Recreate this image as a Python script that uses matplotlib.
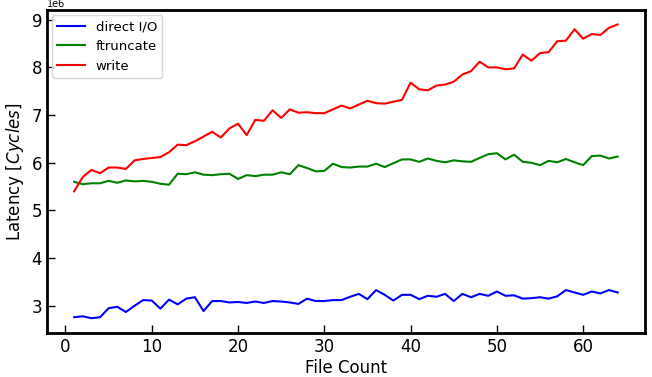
import numpy as np
import matplotlib
matplotlib.use("Agg")
import matplotlib.pyplot as plt

# Data (cycles, in units of 1e6)
file_count = np.arange(1, 65)

direct_io = [2.76, 2.78, 2.74, 2.76, 2.95, 2.98, 2.87, 3.00, 3.12, 3.11,
             2.94, 3.13, 3.03, 3.15, 3.18, 2.89, 3.10, 3.10, 3.07, 3.08,
             3.06, 3.09, 3.06, 3.10, 3.09, 3.07, 3.04, 3.15, 3.10, 3.10,
             3.12, 3.12, 3.19, 3.25, 3.14, 3.33, 3.23, 3.11, 3.23, 3.23,
             3.14, 3.21, 3.19, 3.25, 3.10, 3.25, 3.18, 3.25, 3.21, 3.30,
             3.21, 3.22, 3.15, 3.16, 3.18, 3.15, 3.20, 3.33, 3.28, 3.23,
             3.30, 3.26, 3.33, 3.28]

ftruncate = [5.60, 5.55, 5.57, 5.57, 5.62, 5.58, 5.63, 5.61, 5.62, 5.60,
             5.56, 5.54, 5.77, 5.76, 5.80, 5.75, 5.74, 5.76, 5.77, 5.66,
             5.74, 5.72, 5.75, 5.75, 5.80, 5.76, 5.95, 5.89, 5.82, 5.83,
             5.98, 5.91, 5.90, 5.92, 5.92, 5.98, 5.91, 5.99, 6.07, 6.07,
             6.02, 6.09, 6.04, 6.01, 6.05, 6.03, 6.02, 6.10, 6.18, 6.20,
             6.07, 6.17, 6.02, 6.00, 5.95, 6.04, 6.01, 6.08, 6.01, 5.95,
             6.14, 6.15, 6.09, 6.13]

write = [5.40, 5.70, 5.85, 5.78, 5.90, 5.90, 5.87, 6.05, 6.08, 6.10,
         6.12, 6.22, 6.38, 6.37, 6.45, 6.55, 6.65, 6.53, 6.72, 6.82,
         6.58, 6.90, 6.88, 7.10, 6.94, 7.12, 7.05, 7.06, 7.04, 7.04,
         7.12, 7.20, 7.14, 7.22, 7.30, 7.25, 7.24, 7.28, 7.32, 7.68,
         7.54, 7.52, 7.62, 7.64, 7.70, 7.85, 7.92, 8.12, 8.00, 8.00,
         7.96, 7.98, 8.27, 8.14, 8.30, 8.32, 8.55, 8.56, 8.80, 8.60,
         8.70, 8.68, 8.83, 8.90]

fig = plt.figure(figsize=(6.52, 3.77), dpi=100)
ax = fig.add_axes([0.072, 0.117, 0.917, 0.857])

ax.plot(file_count, direct_io, color="blue", lw=1.5, label="direct I/O")
ax.plot(file_count, ftruncate, color="green", lw=1.5, label="ftruncate")
ax.plot(file_count, write, color="red", lw=1.5, label="write")

# scale marker (values are in millions of cycles)
ax.text(0.0, 1.003, "1e6", transform=ax.transAxes, fontsize=7,
        ha="left", va="bottom")

ax.set_xlabel("File Count", fontsize=12, labelpad=2)
ax.set_ylabel("Latency [$Cycles$]", fontsize=12)
ax.tick_params(direction="in", length=6, width=1, labelsize=12)
for s in ax.spines.values():
    s.set_linewidth(2)
ax.legend(loc="upper left", fontsize=9.5, handlelength=2.1, borderaxespad=0.4)

fig.savefig("out.png", dpi=100)
